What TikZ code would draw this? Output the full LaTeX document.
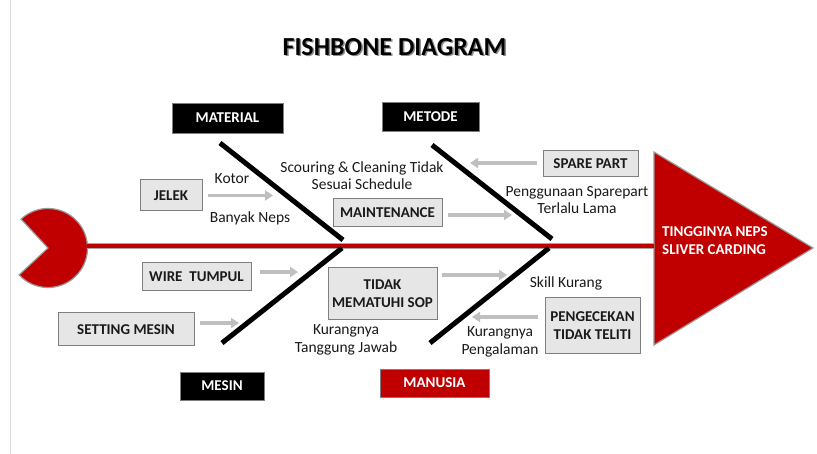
\documentclass[tikz,border=0pt]{standalone}
\usepackage{fontspec}
\setmainfont{Carlito}
\usetikzlibrary{arrows.meta}
\definecolor{fbred}{HTML}{C00000}
\definecolor{boxgray}{HTML}{E6E6E6}
\definecolor{edgegray}{HTML}{7F7F7F}
\definecolor{arrgray}{HTML}{BFBFBF}
\definecolor{txt}{HTML}{1A1A1A}
\definecolor{pageline}{HTML}{D9D9D9}
\begin{document}
\begin{tikzpicture}[x=1pt,y=-1pt,
  catbox/.style={fill=black, draw=edgegray, line width=0.8pt, text=white,
    font=\bfseries\fontsize{15}{17}\selectfont, inner sep=0pt, align=center},
  redbox/.style={catbox, fill=fbred},
  causebox/.style={fill=boxgray, draw=edgegray, line width=1pt, text=txt,
    font=\bfseries\fontsize{15}{18}\selectfont, inner sep=0pt, align=center},
  lbl/.style={text=txt, font=\fontsize{15.5}{17.5}\selectfont, align=center, inner sep=0pt},
  bone/.style={line width=5pt, black},
  causearrow/.style={line width=3.5pt, arrgray, -{Triangle[length=8pt,width=10pt]}}
]
\useasboundingbox (0,0) rectangle (817,454);
\fill[white] (0,0) rectangle (817,454);
\draw[pageline, line width=0.8pt] (10.5,0) -- (10.5,454);

% title
\node[text=black!45, font=\bfseries\fontsize{26}{28}\selectfont, inner sep=0pt] (titleshadow) at (396,48.5) {FISHBONE DIAGRAM};
\node[text=black, font=\bfseries\fontsize{26}{28}\selectfont, inner sep=0pt] (title) at (394.5,47) {FISHBONE DIAGRAM};

% tail (pacman)
\coordinate (tailc) at (48,248);
\fill[fbred, draw=edgegray!80, line width=1.2pt] (tailc) -- ++(-133:39.5) arc[start angle=-133, end angle=137, radius=39.5] -- cycle;
\coordinate (tail) at (87,246);

% head triangle
\coordinate (headtop) at (654,152);
\coordinate (headbot) at (654,345);
\coordinate (headtip) at (813,248);
\coordinate (head) at (654,246);
\fill[fbred, draw=edgegray!80, line width=1.2pt] (headtop) -- (headtip) -- (headbot) -- cycle;
\node[anchor=west, text=white, font=\bfseries\fontsize{15}{17.5}\selectfont, align=left, inner sep=0pt] (effect) at (662,240.5) {TINGGINYA NEPS\\SLIVER CARDING};

% spine
\draw[edgegray!70, line width=6.5pt] (tail) -- (head);
\draw[fbred, line width=4pt] (tail) -- (head);

% bones
\coordinate (b1s) at (220,143); \coordinate (b1e) at (343,240);
\coordinate (b2s) at (432,145); \coordinate (b2e) at (552,239);
\coordinate (b3s) at (342,248); \coordinate (b3e) at (222,343);
\coordinate (b4s) at (549,248); \coordinate (b4e) at (430,343);
\draw[bone] (b1s) -- (b1e);
\draw[bone] (b2s) -- (b2e);
\draw[bone] (b3s) -- (b3e);
\draw[bone] (b4s) -- (b4e);

% category boxes
\node[catbox, minimum width=111pt, minimum height=30pt] (material) at (227.5,118) {MATERIAL};
\node[catbox, minimum width=97pt, minimum height=29pt] (metode) at (430.5,116.5) {METODE};
\node[catbox, minimum width=84pt, minimum height=28pt] (mesin) at (222,386) {MESIN};
\node[redbox, minimum width=109pt, minimum height=28pt] (manusia) at (434.5,383) {MANUSIA};

% cause boxes
\node[causebox, minimum width=62pt, minimum height=31pt] (jelek) at (171,195.5) {JELEK};
\node[causebox, minimum width=109pt, minimum height=28pt] (maint) at (387.5,213) {MAINTENANCE};
\node[causebox, minimum width=95pt, minimum height=26pt] (spare) at (590.5,164) {SPARE PART};
\node[causebox, minimum width=109pt, minimum height=28pt] (wire) at (196.5,277) {WIRE\ \ TUMPUL};
\node[causebox, minimum width=136pt, minimum height=33pt] (setting) at (126,329.5) {SETTING MESIN};
\node[causebox, minimum width=109pt, minimum height=52pt] (tidak) at (382.5,294) {TIDAK\\MEMATUHI SOP};
\node[causebox, minimum width=95pt, minimum height=56pt] (cek) at (592.5,326) {PENGECEKAN\\TIDAK TELITI};

% arrows
\coordinate (a1) at (273,195.5);
\coordinate (a2) at (512,215);
\coordinate (a3) at (470,163);
\coordinate (a4) at (298,272);
\coordinate (a5) at (239,323);
\coordinate (a6) at (507,275);
\coordinate (a7) at (472,317);
\draw[causearrow, shorten <=5pt] (jelek.east |- a1) -- (a1);
\draw[causearrow, shorten <=5pt] (maint.east |- a2) -- (a2);
\draw[causearrow, shorten <=6pt] (spare.west |- a3) -- (a3);
\draw[causearrow, shorten <=8pt] (wire.east |- a4) -- (a4);
\draw[causearrow, shorten <=5pt] (setting.east |- a5) -- (a5);
\draw[causearrow, shorten <=4pt] (tidak.east |- a6) -- (a6);
\draw[causearrow, shorten <=7pt] (cek.west |- a7) -- (a7);

% labels
\node[lbl] (kotor) at (232,179) {Kotor};
\node[lbl] (banyak) at (250,218) {Banyak Neps};
\node[lbl] (scouring) at (362,175.5) {Scouring \& Cleaning Tidak\\Sesuai Schedule};
\node[lbl] (penggunaan) at (577,200) {Penggunaan Sparepart\\Terlalu Lama};
\node[lbl] (skill) at (566,283) {Skill Kurang};
\node[lbl] (pengalaman) at (500,342) {Kurangnya\\Pengalaman};
\node[lbl] (tanggung) at (346,340) {Kurangnya\\Tanggung Jawab};
\end{tikzpicture}
\end{document}
